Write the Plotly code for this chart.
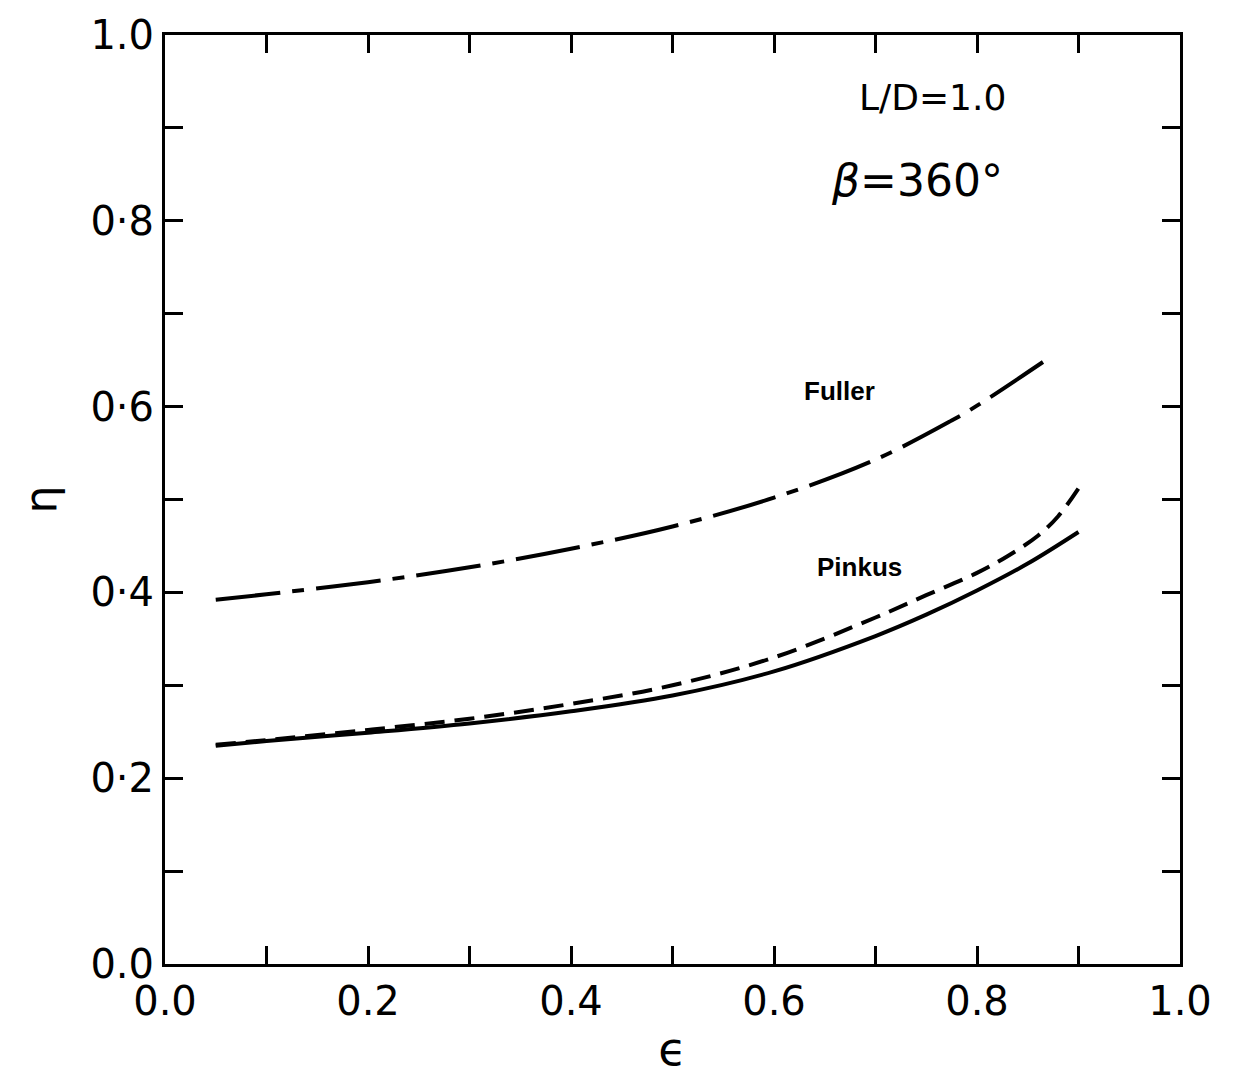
import plotly.graph_objects as go

fuller_x = [0.05, 0.1, 0.2, 0.3, 0.4, 0.5, 0.6, 0.7, 0.775, 0.8, 0.865]
fuller_y = [0.392, 0.398, 0.411, 0.427, 0.447, 0.471, 0.502, 0.543, 0.585, 0.601, 0.648]

pinkus_solid_x = [0.05, 0.1, 0.2, 0.3, 0.4, 0.5, 0.6, 0.7, 0.75, 0.8, 0.85, 0.9]
pinkus_solid_y = [0.235, 0.240, 0.249, 0.259, 0.272, 0.289, 0.315, 0.353, 0.376, 0.402, 0.431, 0.465]

pinkus_dash_x = [0.05, 0.1, 0.2, 0.3, 0.4, 0.5, 0.6, 0.7, 0.75, 0.8, 0.83, 0.86, 0.88, 0.9]
pinkus_dash_y = [0.236, 0.241, 0.252, 0.264, 0.280, 0.300, 0.330, 0.373, 0.397, 0.421, 0.439, 0.461, 0.482, 0.512]

x_tickvals = [0.0, 0.1, 0.2, 0.3, 0.4, 0.5, 0.6, 0.7, 0.8, 0.9, 1.0]
x_ticktext = ["0.0", "", "0.2", "", "0.4", "", "0.6", "", "0.8", "", "1.0"]
y_tickvals = [0.0, 0.1, 0.2, 0.3, 0.4, 0.5, 0.6, 0.7, 0.8, 0.9, 1.0]
y_ticktext = ["0.0", "", "0·2", "", "0·4", "", "0·6", "", "0·8", "", "1.0"]

fig = go.Figure()
fig.add_trace(go.Scatter(x=fuller_x, y=fuller_y, mode="lines",
                         line=dict(color="black", width=4, dash="65px,12px,12px,12px", shape="spline", smoothing=1.0),
                         name="Fuller"))
fig.add_trace(go.Scatter(x=pinkus_solid_x, y=pinkus_solid_y, mode="lines",
                         line=dict(color="black", width=4, shape="spline", smoothing=1.0), name="Pinkus"))
fig.add_trace(go.Scatter(x=pinkus_dash_x, y=pinkus_dash_y, mode="lines",
                         line=dict(color="black", width=4, dash="20px,10px", shape="spline", smoothing=1.0),
                         name="Pinkus (dashed)"))

tickfont = dict(family="DejaVu Sans", size=40, color="black")
axis_common = dict(
    showgrid=False, zeroline=False, showline=True, linecolor="black", linewidth=3,
    mirror="ticks", ticks="inside", ticklen=18, tickwidth=3, tickcolor="black",
    tickfont=tickfont, range=[0, 1],
)
fig.update_xaxes(**axis_common, tickvals=x_tickvals, ticktext=x_ticktext,
                 title=dict(text="ϵ", font=dict(family="DejaVu Sans", size=46, color="black"), standoff=10))
fig.update_yaxes(**axis_common, tickvals=y_tickvals, ticktext=y_ticktext,
                 title=dict(text="η", font=dict(family="DejaVu Sans", size=44, color="black"), standoff=20))

fig.add_annotation(x=0.665, y=0.617, xref="x", yref="y", text="<b>Fuller</b>", showarrow=False,
                   font=dict(family="Liberation Sans", size=26, color="black"))
fig.add_annotation(x=0.684, y=0.427, xref="x", yref="y", text="<b>Pinkus</b>", showarrow=False,
                   font=dict(family="Liberation Sans", size=26, color="black"))
fig.add_annotation(x=0.756, y=0.933, xref="x", yref="y", text="L/D=1.0", showarrow=False,
                   font=dict(family="DejaVu Sans", size=36, color="black"))
fig.add_annotation(x=0.741, y=0.843, xref="x", yref="y", text="<i>β</i>=360°", showarrow=False,
                   font=dict(family="DejaVu Sans", size=44, color="black"))

fig.update_layout(
    width=1234, height=1078,
    margin=dict(l=165, r=54, t=32, b=112),
    paper_bgcolor="white", plot_bgcolor="white",
    showlegend=False,
)

fig.write_html("out.html")
